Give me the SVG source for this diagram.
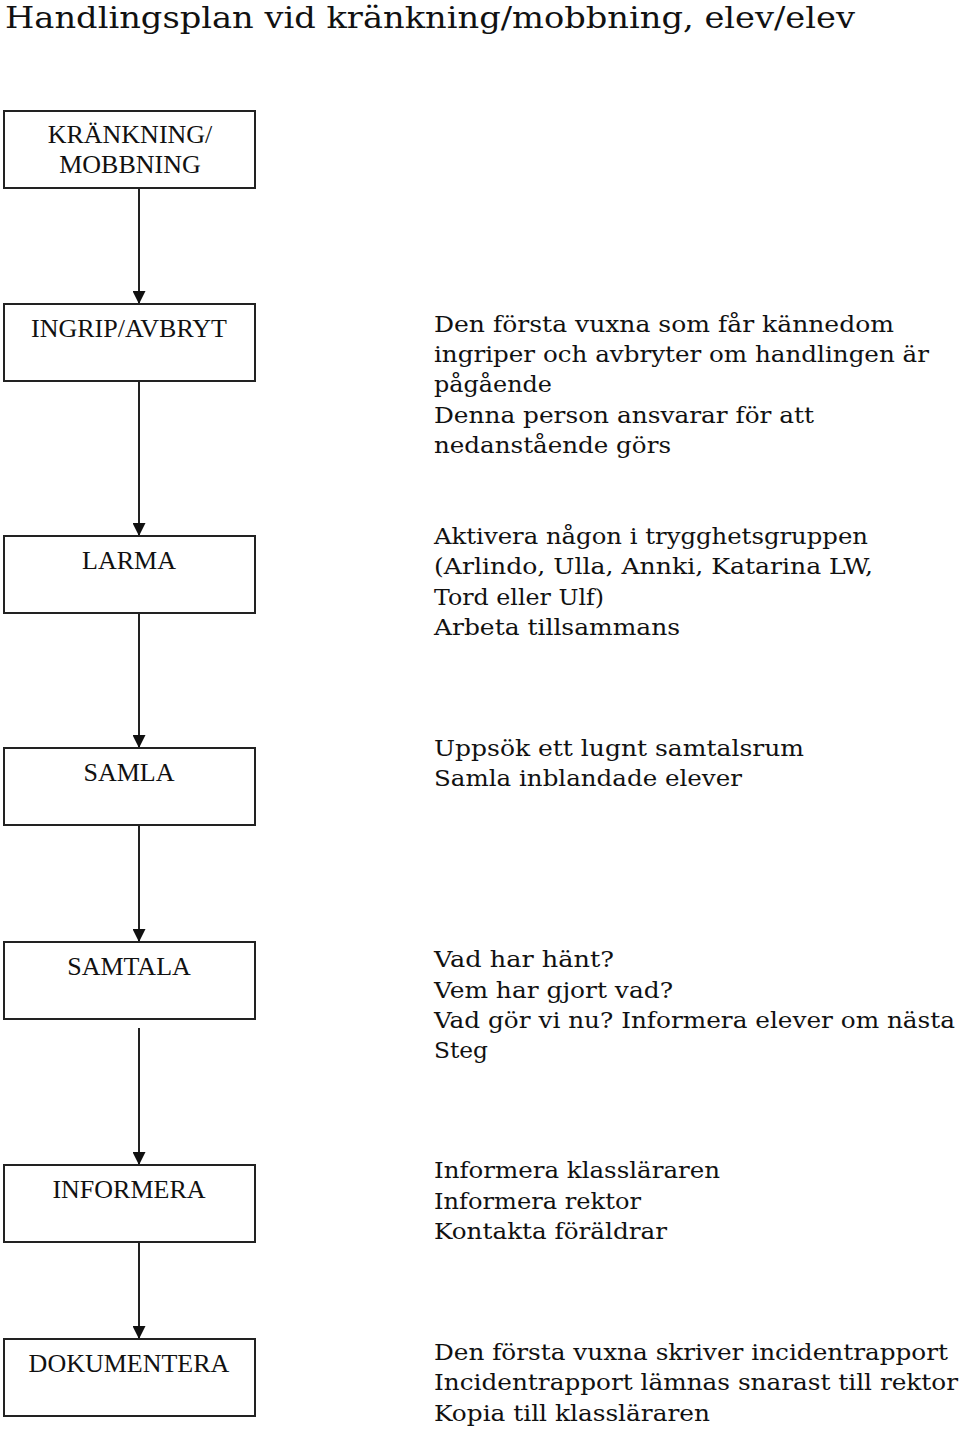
<svg xmlns="http://www.w3.org/2000/svg" width="960" height="1430" viewBox="0 0 960 1430">
<style>
.title{font-family:"DejaVu Serif","Liberation Serif",serif;font-size:30px;fill:#111}
.box{fill:#fff;stroke:#222;stroke-width:2}
.lbl{font-family:"Liberation Serif","Times New Roman",serif;font-size:26px;fill:#111;text-anchor:middle}
.desc{font-family:"DejaVu Serif","Liberation Serif",serif;font-size:23px;fill:#111}
.conn{stroke:#222;stroke-width:2;fill:none}
</style>
<defs>
<marker id="arr" viewBox="0 0 12 12" refX="12" refY="6" markerWidth="13" markerHeight="13" markerUnits="userSpaceOnUse" orient="auto">
<path d="M0,0 L12,6 L0,12 z" fill="#111"/>
</marker>
</defs>
<rect width="960" height="1430" fill="#fff"/>
<text class="title" x="5" y="28" textLength="850" lengthAdjust="spacingAndGlyphs">Handlingsplan vid kränkning/mobbning, elev/elev</text>

<g id="connectors">
<line class="conn" x1="139" y1="189" x2="139" y2="304" marker-end="url(#arr)"/>
<line class="conn" x1="139" y1="382" x2="139" y2="536" marker-end="url(#arr)"/>
<line class="conn" x1="139" y1="614" x2="139" y2="748" marker-end="url(#arr)"/>
<line class="conn" x1="139" y1="826" x2="139" y2="942" marker-end="url(#arr)"/>
<line class="conn" x1="139" y1="1028" x2="139" y2="1165" marker-end="url(#arr)"/>
<line class="conn" x1="139" y1="1243" x2="139" y2="1339" marker-end="url(#arr)"/>
</g>

<g id="n-krankning">
<rect class="box" x="4" y="111" width="251" height="77"/>
<text class="lbl" x="130" y="143">KRÄNKNING/</text>
<text class="lbl" x="130" y="173">MOBBNING</text>
</g>

<g id="n-ingrip">
<rect class="box" x="4" y="304" width="251" height="77"/>
<text class="lbl" x="129" y="337">INGRIP/AVBRYT</text>
<text class="desc" x="434" y="332" textLength="460" lengthAdjust="spacingAndGlyphs">Den första vuxna som får kännedom</text>
<text class="desc" x="434" y="362" textLength="495" lengthAdjust="spacingAndGlyphs">ingriper och avbryter om handlingen är</text>
<text class="desc" x="434" y="392" textLength="118" lengthAdjust="spacingAndGlyphs">pågående</text>
<text class="desc" x="434" y="423" textLength="380" lengthAdjust="spacingAndGlyphs">Denna person ansvarar för att</text>
<text class="desc" x="434" y="453" textLength="237" lengthAdjust="spacingAndGlyphs">nedanstående görs</text>
</g>

<g id="n-larma">
<rect class="box" x="4" y="536" width="251" height="77"/>
<text class="lbl" x="129" y="569">LARMA</text>
<text class="desc" x="434" y="544" textLength="434" lengthAdjust="spacingAndGlyphs">Aktivera någon i trygghetsgruppen</text>
<text class="desc" x="434" y="574" textLength="439" lengthAdjust="spacingAndGlyphs">(Arlindo, Ulla, Annki, Katarina LW,</text>
<text class="desc" x="434" y="605" textLength="170" lengthAdjust="spacingAndGlyphs">Tord eller Ulf)</text>
<text class="desc" x="434" y="635" textLength="246" lengthAdjust="spacingAndGlyphs">Arbeta tillsammans</text>
</g>

<g id="n-samla">
<rect class="box" x="4" y="748" width="251" height="77"/>
<text class="lbl" x="129" y="781">SAMLA</text>
<text class="desc" x="434" y="756" textLength="370" lengthAdjust="spacingAndGlyphs">Uppsök ett lugnt samtalsrum</text>
<text class="desc" x="434" y="786" textLength="308" lengthAdjust="spacingAndGlyphs">Samla inblandade elever</text>
</g>

<g id="n-samtala">
<rect class="box" x="4" y="942" width="251" height="77"/>
<text class="lbl" x="129" y="975">SAMTALA</text>
<text class="desc" x="434" y="967" textLength="180" lengthAdjust="spacingAndGlyphs">Vad har hänt?</text>
<text class="desc" x="434" y="998" textLength="239" lengthAdjust="spacingAndGlyphs">Vem har gjort vad?</text>
<text class="desc" x="434" y="1028" textLength="521" lengthAdjust="spacingAndGlyphs">Vad gör vi nu? Informera elever om nästa</text>
<text class="desc" x="434" y="1058" textLength="54" lengthAdjust="spacingAndGlyphs">Steg</text>
</g>

<g id="n-informera">
<rect class="box" x="4" y="1165" width="251" height="77"/>
<text class="lbl" x="129" y="1198">INFORMERA</text>
<text class="desc" x="434" y="1178" textLength="286" lengthAdjust="spacingAndGlyphs">Informera klassläraren</text>
<text class="desc" x="434" y="1209" textLength="207" lengthAdjust="spacingAndGlyphs">Informera rektor</text>
<text class="desc" x="434" y="1239" textLength="233" lengthAdjust="spacingAndGlyphs">Kontakta föräldrar</text>
</g>

<g id="n-dokumentera">
<rect class="box" x="4" y="1339" width="251" height="77"/>
<text class="lbl" x="129" y="1372">DOKUMENTERA</text>
<text class="desc" x="434" y="1360" textLength="514" lengthAdjust="spacingAndGlyphs">Den första vuxna skriver incidentrapport</text>
<text class="desc" x="434" y="1390" textLength="524" lengthAdjust="spacingAndGlyphs">Incidentrapport lämnas snarast till rektor</text>
<text class="desc" x="434" y="1421" textLength="276" lengthAdjust="spacingAndGlyphs">Kopia till klassläraren</text>
</g>
</svg>
